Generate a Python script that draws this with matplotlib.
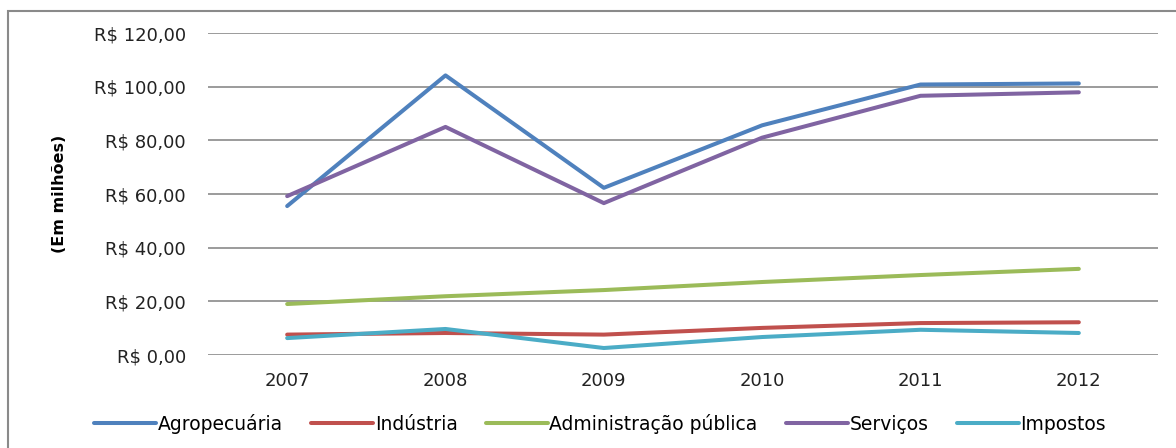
import matplotlib
matplotlib.use("Agg")
import matplotlib.pyplot as plt
from matplotlib.patches import Rectangle

anos = ["2007", "2008", "2009", "2010", "2011", "2012"]
agropecuaria = [55.5, 104.2, 62.3, 85.6, 100.8, 101.2]
industria = [7.6, 8.2, 7.6, 10.1, 11.9, 12.2]
administracao = [19.0, 21.9, 24.2, 27.2, 29.8, 32.1]
servicos = [59.2, 85.0, 56.6, 81.0, 96.6, 97.9]
impostos = [6.3, 9.7, 2.6, 6.7, 9.4, 8.2]

series = [
    ("Agropecuária", agropecuaria, "#4F81BD"),
    ("Indústria", industria, "#C0504D"),
    ("Administração pública", administracao, "#9BBB59"),
    ("Serviços", servicos, "#8064A2"),
    ("Impostos", impostos, "#4BACC6"),
]
yticks = [0, 20, 40, 60, 80, 100, 120]

fig = plt.figure(figsize=(11.76, 4.48), dpi=100)
ax = fig.add_axes([208/1176, 1-355/448, 950/1176, 322/448])

x = list(range(len(anos)))
for nome, vals, cor in series:
    ax.plot(x, vals, color=cor, lw=2.9, label=nome, solid_capstyle="round")

ax.set_xlim(-0.5, len(anos) - 0.5)
ax.set_ylim(0, 120)
ax.set_yticks(yticks)
ax.set_yticklabels(["R$ %d,00" % v for v in yticks], fontsize=13, color="#222222")
ax.set_xticks(x)
ax.set_xticklabels(anos, fontsize=13, color="#222222")
ax.tick_params(axis="y", length=0, pad=16)
ax.tick_params(axis="x", length=0, pad=12)
ax.grid(axis="y", color="#8a8a8a", lw=1.2)
ax.set_axisbelow(True)
for s in ax.spines.values():
    s.set_visible(False)

ax.set_ylabel("(Em milhões)", fontsize=11.5, fontweight="bold")
ax.yaxis.set_label_coords(-0.148, 0.5)

leg = fig.legend(loc="center", bbox_to_anchor=(600/1176, 1-424/448), ncol=5,
                 frameon=False, fontsize=13.5, handlelength=3.3, handletextpad=0.1,
                 columnspacing=1.5)

fig.patches.append(Rectangle((8/1176, -0.1), 1.2, 1-11/448+0.1, transform=fig.transFigure,
                             fill=False, edgecolor="#8a8a8a", lw=1.5))

fig.savefig("out.png", dpi=100)
